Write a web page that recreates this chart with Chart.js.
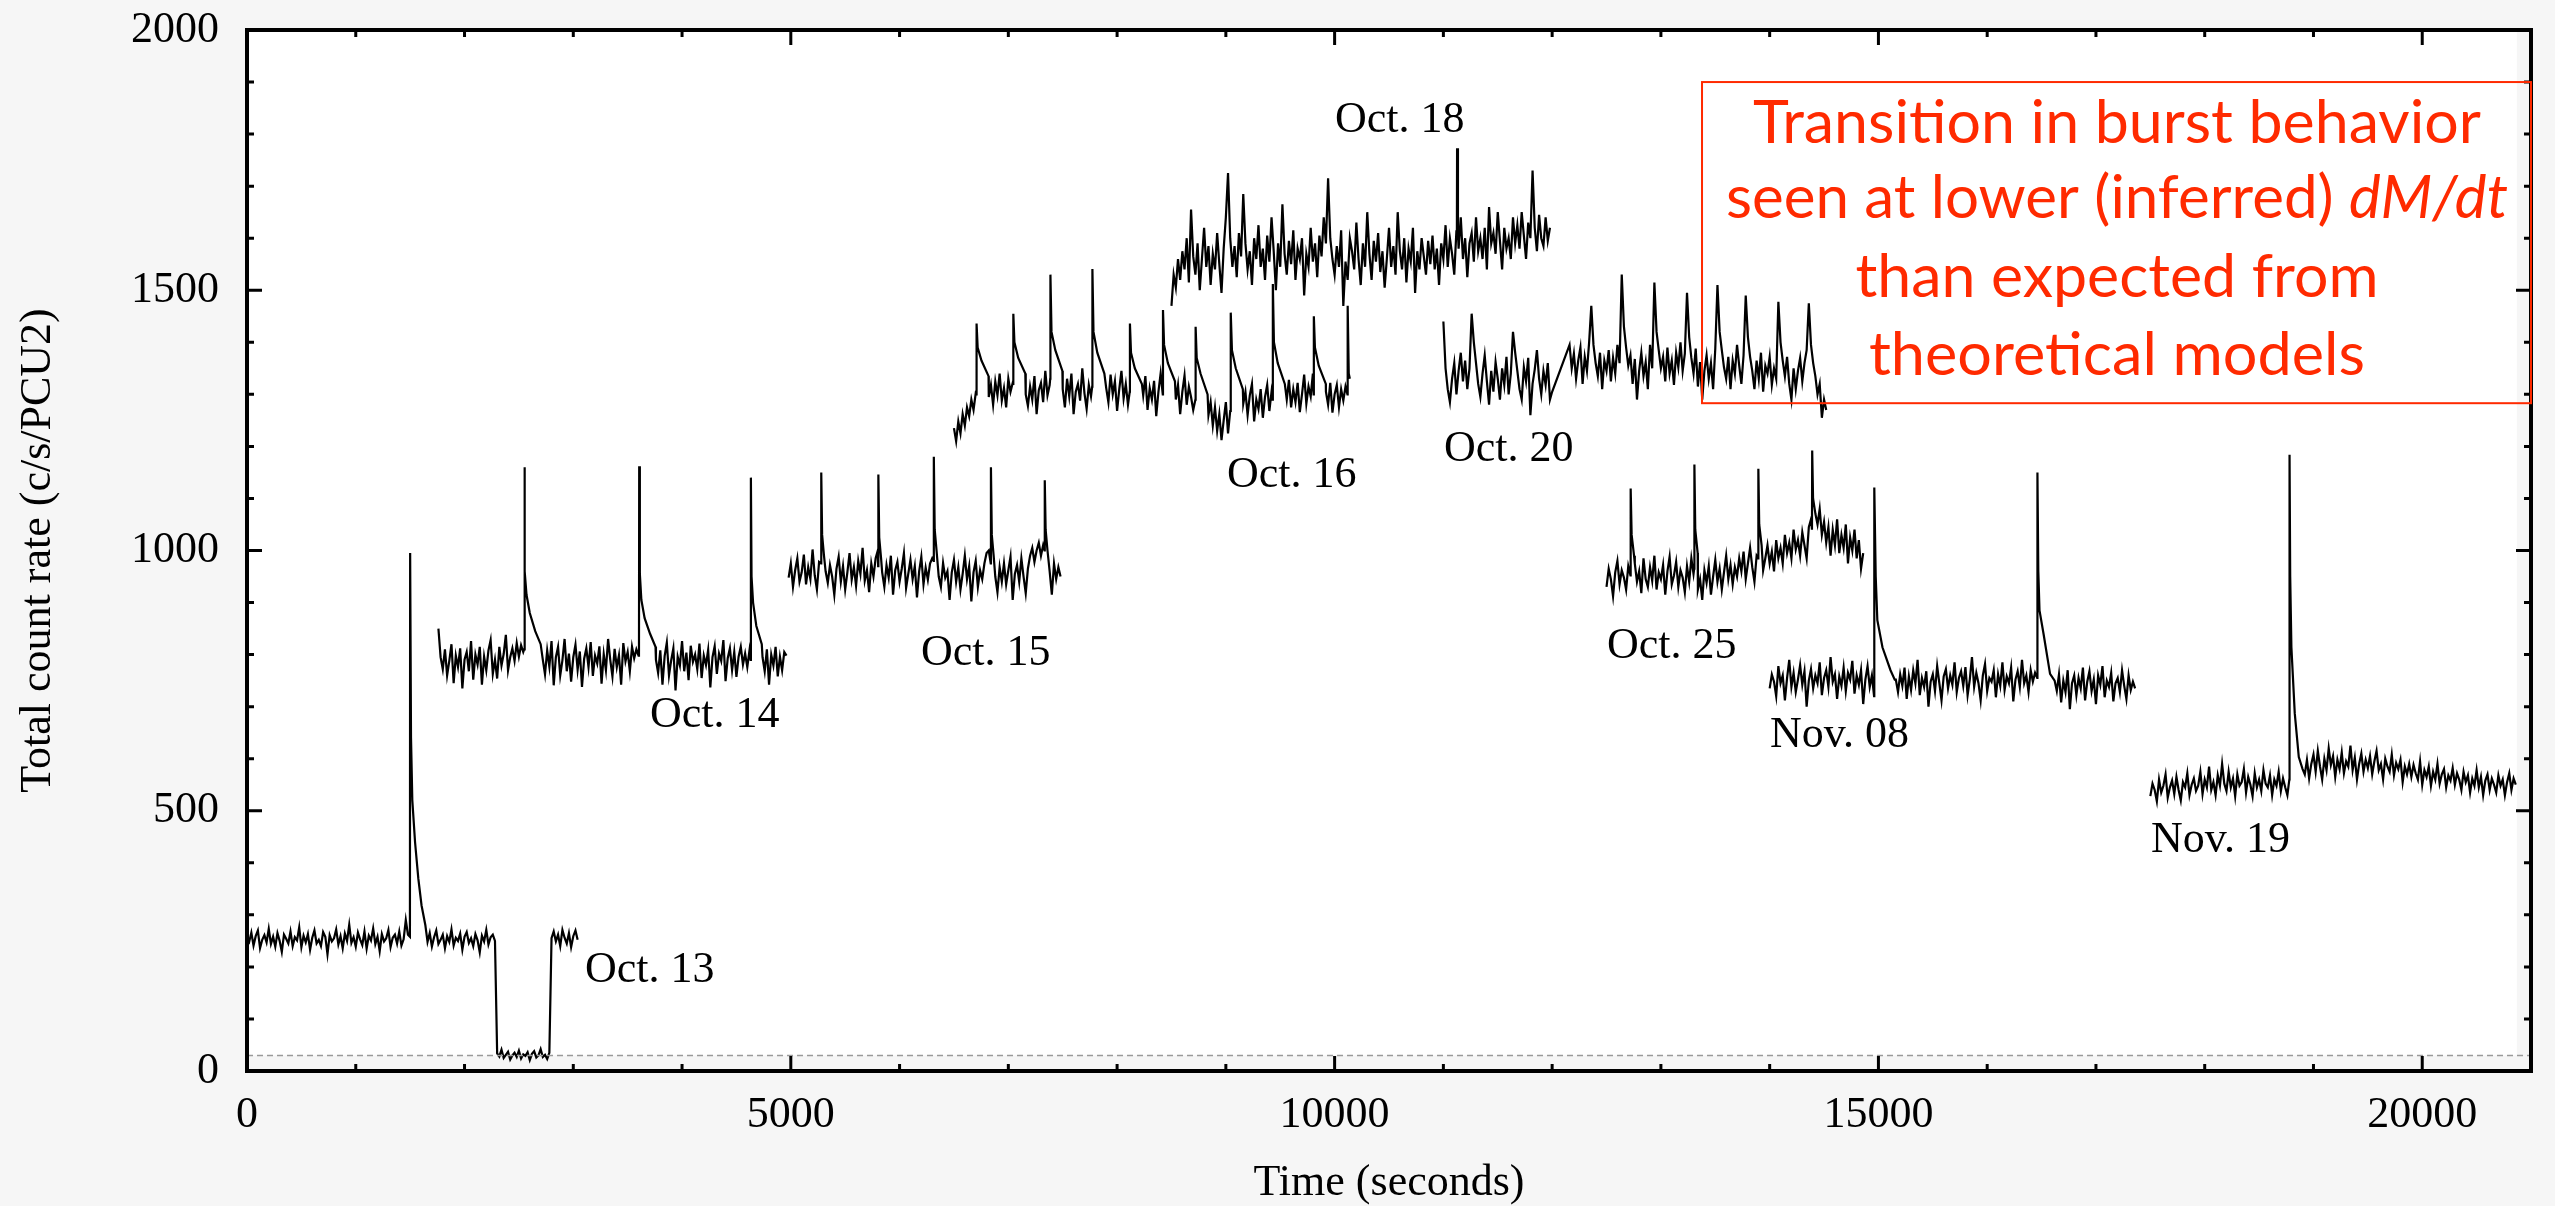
<!DOCTYPE html>
<html>
<head>
<meta charset="utf-8">
<script src="https://cdn.jsdelivr.net/npm/chart.js@4.4.1/dist/chart.umd.min.js"></script>
<style>
  html, body { margin: 0; padding: 0; background: #f6f6f6; }
  canvas { display: block; }
</style>
</head>
<body>
<canvas id="curve" width="2555" height="1206"></canvas>
<script>
// ---------- data (count rate in c/s/PCU2, 20 s bins) ---------- //
const binSeconds = 20;
const xTicks = [0, 5000, 10000, 15000, 20000];
const yTicks = [0, 500, 1000, 1500, 2000];
const backgroundLevel = 30;

// Oct. 13 (includes the short drop to background)
const oct13Start = 0;
const oct13Rate = [
  255,248,266,241,259,270,236,252,261,247,273,244,258,239,265,250,229,262,254,245,
  268,240,257,251,276,238,260,247,263,233,256,270,245,252,240,267,258,224,261,249,
  255,272,243,259,236,264,250,281,246,257,239,266,253,242,268,235,260,251,274,244,
  258,230,263,249,255,271,238,256,262,245,268,241,253,290,262,
  300,280,270,262,258,255,260,252,
  248,265,239,257,270,244,252,262,236,259,248,272,241,256,250,264,233,258,267,246,
  255,240,263,251,228,260,249,271,243,257,262,250,
  34,28,41,25,31,37,22,30,35,27,39,24,32,29,36,21,33,38,26,30,42,27,31,23,35,
  255,268,249,262,240,271,256,245,265,238,259,270,252
];
const oct13Bursts = [
  { t: [1498, 1500, 1508, 1520, 1545, 1575, 1605, 1640], v: [258, 995, 640, 520, 440, 370, 318, 280] }
];

// Oct. 14
const oct14Start = 1760;
const oct14Rate = [
  850,795,772,810,760,788,820,745,798,776,812,735,790,805,768,826,752,800,781,815,
  742,796,770,808,828,763,790,754,815,779,801,838,770,795,812,788,822,796,818,805,
  900,880,860,845,830,820,812,805,790,762,808,777,826,741,795,815,760,789,830,768,
  802,748,795,819,771,806,738,792,812,776,824,759,798,783,816,744,801,770,830,790,
  758,811,776,799,742,822,787,805,768,815,793,810,798,880,860,850,835,828,818,812,
  790,765,808,742,797,823,760,789,812,731,796,779,826,768,804,751,817,786,800,772,
  821,755,798,780,809,737,795,816,763,802,788,828,749,793,812,770,805,757,796,815,
  781,802,776,808,900,870,850,832,820,795,768,810,742,800,779,815,758,796,770,805,
  798
];
const oct14Bursts = [
  { t: [2548, 2550, 2556, 2570, 2600, 2650, 2700], v: [810, 1160, 960, 915, 880, 845, 820] },
  { t: [3604, 3606, 3612, 3626, 3656, 3706, 3756], v: [800, 1162, 955, 905, 870, 840, 815] },
  { t: [4631, 4633, 4639, 4653, 4683, 4733], v: [790, 1140, 950, 900, 855, 820] }
];

// Oct. 15
const oct15Start = 4980;
const oct15Rate = [
  948,975,930,962,985,940,958,992,935,968,945,1002,952,925,978,1010,990,960,938,972,
  950,915,965,988,940,970,925,958,995,944,968,932,980,955,1005,942,962,920,975,950,
  985,1000,1020,958,930,972,948,990,915,962,978,940,965,995,928,955,982,945,970,910,
  960,988,935,967,944,975,985,1010,990,950,930,976,948,960,905,958,982,940,968,925,
  955,990,945,970,902,958,980,930,962,945,975,995,1000,1020,1000,950,920,968,940,975,
  935,962,988,905,955,972,940,985,950,918,965,990,1005,978,1000,1015,990,1010,1030,1000,
  960,915,975,945,968,950
];
const oct15Bursts = [
  { t: [5278, 5280, 5288, 5305], v: [975, 1150, 1030, 990] },
  { t: [5803, 5805, 5813, 5830], v: [970, 1146, 1025, 985] },
  { t: [6313, 6315, 6323, 6340], v: [980, 1180, 1040, 1000] },
  { t: [6838, 6840, 6848, 6865], v: [975, 1160, 1030, 990] },
  { t: [7333, 7335, 7343, 7360], v: [1000, 1135, 1040, 1000] }
];

// Oct. 16
const oct16Start = 6500;
const oct16Rate = [
  1235,1210,1248,1225,1262,1240,1275,1258,1290,1270,1302,1360,1350,1340,1335,1330,1295,1318,1280,1325,
  1298,1340,1288,1312,1275,1330,1305,1322,1380,1365,1352,1345,1340,1300,1278,1315,1290,1335,1262,1308,
  1322,1285,1345,1298,1318,1400,1390,1380,1370,1350,1310,1275,1330,1296,1340,1262,1305,1320,1288,1350,
  1302,1272,1318,1296,1380,1372,1360,1350,1345,1340,1312,1285,1338,1300,1325,1268,1310,1345,1292,1320,
  1280,1370,1360,1350,1340,1330,1320,1298,1335,1270,1312,1290,1326,1258,1305,1340,1380,1370,1360,1345,
  1335,1325,1290,1318,1262,1305,1336,1280,1315,1295,1270,1350,1345,1335,1320,1310,1300,1260,1285,1240,
  1275,1230,1262,1212,1250,1285,1225,1268,1345,1370,1355,1340,1320,1282,1305,1260,1298,1320,1248,1290,
  1272,1310,1255,1295,1318,1268,1305,1380,1400,1375,1360,1340,1325,1290,1328,1275,1310,1285,1322,1266,
  1300,1338,1282,1315,1296,1340,1370,1360,1350,1340,1330,1305,1280,1322,1265,1300,1318,1275,1310,1288,
  1315,1350,1330
];
const oct16Bursts = [
  { t: [6706, 6708, 6718, 6753, 6818], v: [1300, 1436, 1390, 1365, 1335] },
  { t: [7044, 7046, 7056, 7091, 7156], v: [1320, 1455, 1400, 1370, 1340] },
  { t: [7385, 7387, 7397, 7432, 7497], v: [1330, 1530, 1420, 1385, 1345] },
  { t: [7771, 7773, 7783, 7818, 7883], v: [1315, 1541, 1420, 1380, 1340] },
  { t: [8116, 8118, 8128, 8163, 8228], v: [1305, 1436, 1380, 1350, 1320] },
  { t: [8420, 8422, 8432, 8467, 8532], v: [1300, 1462, 1395, 1360, 1325] },
  { t: [8720, 8722, 8732, 8767, 8832], v: [1290, 1430, 1370, 1340, 1300] },
  { t: [9044, 9046, 9056, 9091, 9156], v: [1270, 1457, 1385, 1350, 1310] },
  { t: [9430, 9432, 9442, 9477, 9542], v: [1290, 1512, 1400, 1360, 1320] },
  { t: [9807, 9809, 9819, 9854, 9919], v: [1300, 1450, 1390, 1355, 1320] },
  { t: [10118, 10120, 10130], v: [1300, 1470, 1340] }
];

// Oct. 18
const oct18Start = 8500;
const oct18Rate = [
  1470,1530,1505,1560,1520,1575,1540,1600,1515,1655,1565,1530,1590,1500,1560,1620,1545,1585,1510,1570,
  1540,1610,1550,1495,1580,1640,1725,1600,1545,1585,1525,1610,1565,1685,1590,1540,1575,1510,1600,1560,
  1625,1545,1580,1520,1605,1555,1640,1575,1500,1590,1545,1665,1570,1530,1595,1550,1615,1520,1580,1560,
  1600,1490,1570,1545,1620,1555,1590,1525,1605,1565,1640,1590,1715,1600,1560,1530,1585,1545,1615,1470,
  1555,1520,1600,1575,1540,1630,1560,1510,1590,1545,1650,1570,1520,1595,1555,1610,1535,1575,1505,1560,
  1620,1545,1585,1530,1650,1575,1540,1600,1515,1580,1555,1620,1495,1575,1540,1600,1565,1530,1595,1550,
  1605,1540,1580,1510,1590,1560,1625,1545,1600,1570,1530,1615,1580,1640,1560,1600,1525,1590,1610,1555,
  1640,1575,1600,1560,1620,1540,1660,1590,1610,1570,1650,1595,1540,1620,1580,1600,1560,1640,1590,1625,
  1580,1650,1605,1560,1630,1600,1730,1620,1575,1645,1600,1585,1640,1595,1620
];
const oct18Bursts = [
  { t: [11124, 11126, 11134], v: [1600, 1773, 1610] }
];

// Oct. 20 (two pieces joined across a data gap)
const oct20aStart = 11000;
const oct20aRate = [
  1440,1350,1310,1285,1330,1360,1300,1345,1380,1325,1365,1310,1350,1455,1400,1360,1320,1295,1340,1375,
  1325,1280,1345,1305,1362,1330,1290,1350,1318,1372,1300,1340,1420,1380,1345,1310,1290,1352,1325,1370,
  1260,1320,1348,1385,1330,1300,1345,1318,1360,1290,1305
];
const oct20bStart = 12160;
const oct20bRate = [
  1395,1350,1378,1330,1365,1390,1320,1372,1345,1400,1470,1395,1360,1335,1380,1310,1365,1345,1385,1325,
  1370,1340,1395,1360,1530,1430,1390,1355,1375,1320,1368,1290,1345,1380,1335,1362,1310,1395,1350,1515,
  1420,1385,1350,1372,1325,1390,1340,1365,1318,1380,1352,1400,1345,1378,1495,1410,1370,1340,1388,1315,
  1362,1290,1345,1375,1330,1360,1310,1388,1510,1420,1385,1352,1330,1372,1310,1365,1340,1395,1355,1320,
  1375,1490,1410,1372,1345,1310,1365,1330,1380,1305,1355,1340,1372,1318,1350,1330,1478,1400,1365,1335,
  1372,1320,1290,1350,1310,1345,1370,1325,1360,1385,1475,1395,1360,1335,1300,1320,1255,1290,1270
];

// Oct. 25
const oct25Start = 12500;
const oct25Rate = [
  930,965,945,912,958,980,935,962,948,925,970,952,1010,975,940,960,918,985,945,930,
  968,942,990,925,958,945,972,915,960,988,935,952,978,930,962,948,920,970,940,985,
  955,1000,925,945,905,962,938,970,915,950,982,940,965,925,958,990,945,972,935,968,
  950,985,960,998,945,975,1005,968,940,990,1000,1000,962,985,1010,975,998,960,1020,985,
  1005,975,1030,995,1015,985,1040,1002,1020,990,1035,1010,985,1045,1060,1075,1070,1050,1080,1030,
  1055,1015,1045,990,1040,1010,1060,995,1030,1005,1050,975,1025,1000,1040,985,1020,965,995
];
const oct25Bursts = [
  { t: [12721, 12723, 12731, 12753], v: [960, 1119, 1030, 990] },
  { t: [13306, 13308, 13316, 13338], v: [965, 1165, 1040, 995] },
  { t: [13894, 13896, 13904, 13926], v: [985, 1157, 1050, 1010] },
  { t: [14389, 14391, 14399, 14421], v: [1040, 1192, 1100, 1070] }
];

// Nov. 08
const nov08Start = 14000;
const nov08Rate = [
  735,762,748,720,778,745,760,712,755,790,738,765,728,752,780,742,768,700,750,772,
  735,760,745,785,722,755,770,738,795,748,762,715,758,740,775,730,765,752,788,725,
  760,742,770,705,752,778,738,760,720,840,820,800,790,780,770,765,760,755,752,728,
  762,740,775,715,758,732,770,745,790,722,755,738,768,700,748,762,730,778,745,712,
  758,772,735,760,742,785,728,755,768,740,776,722,752,795,738,765,745,712,760,782,
  730,755,748,770,718,762,740,785,732,758,745,775,710,752,768,738,790,745,760,728,
  770,748,765,755,880,850,820,800,775,765,758,752,730,762,708,750,728,770,695,745,
  760,722,755,735,775,712,748,768,730,752,705,760,742,778,718,750,738,765,710,745,
  755,728,770,740,715,760,732,748,735
];
const nov08Bursts = [
  { t: [14961, 14963, 14975, 14990, 15037, 15111, 15150], v: [745, 1121, 950, 866, 814, 770, 752] },
  { t: [16461, 16463, 16470, 16481, 16518, 16578, 16620], v: [770, 1150, 960, 885, 840, 763, 750] }
];

// Nov. 19
const nov19Start = 17500;
const nov19Rate = [
  528,552,540,518,560,535,548,570,525,545,558,532,565,540,520,555,545,572,530,550,
  562,538,548,575,532,560,545,585,540,555,530,568,548,590,552,538,575,545,562,528,
  570,548,555,580,535,565,550,528,572,545,560,538,578,552,545,568,530,560,548,575,
  538,562,545,530,600,800,700,640,610,595,580,570,598,562,590,608,575,615,585,560,
  600,578,620,588,605,565,598,580,612,572,595,585,625,578,602,560,590,610,575,598,
  582,605,570,595,615,578,590,560,600,585,575,608,568,592,580,598,555,585,570,590,
  565,588,572,560,595,550,578,565,585,548,575,560,590,552,570,580,545,568,558,582,
  550,572,560,540,575,555,568,535,562,548,578,545,565,530,558,570,540,562,550,535,
  568,548,560,530,555,572,540,562,550
];
const nov19Bursts = [
  { t: [18778, 18780, 18786, 18797, 18828, 18865, 18900], v: [560, 1184, 950, 814, 687, 603, 580] }
];

// observation labels, anchored at (time, rate) of the text's left baseline
const obsLabels = ["Oct. 13", "Oct. 14", "Oct. 15", "Oct. 16", "Oct. 18", "Oct. 20", "Oct. 25", "Nov. 08", "Nov. 19"];
const obsLabelTime = [3108, 3705, 6197, 9011, 10003, 11006, 12504, 14003, 17506];
const obsLabelRate = [171, 661, 780, 1122, 1804, 1172, 793, 622, 421];

// ---------- helpers ---------- //

// binned pieces + burst profiles -> sorted {x, y} points
function lightCurve(pieces, bursts) {
  let pts = [];
  pieces.forEach(([start, values]) => {
    values.forEach((v, i) => pts.push({ x: start + i * binSeconds, y: v }));
  });
  bursts.forEach(b => {
    const t0 = b.t[0], t1 = b.t[b.t.length - 1];
    pts = pts.filter(p => p.x < t0 || p.x > t1);
    b.t.forEach((t, i) => pts.push({ x: t, y: b.v[i] }));
  });
  pts.sort((a, b) => a.x - b.x);
  return pts;
}

function curveSet(label, pts) {
  return { label, data: pts, borderColor: "#000", borderWidth: 2.2, pointRadius: 0 };
}

const serif = "'Liberation Serif', 'Times New Roman', serif";
const noteRed = "#ff2a00";

// paper colour + white plot panel
const paperPlugin = {
  id: "paper",
  beforeDraw(chart) {
    const { ctx, chartArea: a, scales: { x, y } } = chart;
    ctx.save();
    ctx.fillStyle = "#f6f6f6";
    ctx.fillRect(0, 0, chart.width, chart.height);
    ctx.fillStyle = "#ffffff";
    const r = x.getPixelForValue(20870);
    const b = y.getPixelForValue(backgroundLevel);
    ctx.fillRect(a.left, a.top, r - a.left, b - a.top);
    ctx.restore();
  }
};

// inward ticks on all four sides + heavy frame
const framePlugin = {
  id: "frame",
  afterDatasetsDraw(chart) {
    const { ctx, chartArea: a, scales: { x, y } } = chart;
    ctx.save();
    ctx.strokeStyle = "#000";
    ctx.lineWidth = 3;
    ctx.beginPath();
    for (let t = 1000; t < 21000; t += 1000) {
      const px = x.getPixelForValue(t);
      const len = t % 5000 === 0 ? 15 : 7;
      ctx.moveTo(px, a.bottom); ctx.lineTo(px, a.bottom - len);
      ctx.moveTo(px, a.top); ctx.lineTo(px, a.top + len);
    }
    for (let v = 100; v < 2000; v += 100) {
      const py = y.getPixelForValue(v);
      const len = v % 500 === 0 ? 15 : 7;
      ctx.moveTo(a.left, py); ctx.lineTo(a.left + len, py);
      ctx.moveTo(a.right, py); ctx.lineTo(a.right - len, py);
    }
    ctx.stroke();
    ctx.lineWidth = 4;
    ctx.strokeRect(a.left, a.top, a.right - a.left, a.bottom - a.top);
    ctx.restore();
  }
};

// date labels + red note box
const notesPlugin = {
  id: "notes",
  afterDatasetsDraw(chart) {
    const { ctx, scales: { x, y } } = chart;
    ctx.save();
    ctx.fillStyle = "#000";
    ctx.font = "44px " + serif;
    ctx.textAlign = "left";
    ctx.textBaseline = "alphabetic";
    obsLabels.forEach((txt, i) => {
      ctx.fillText(txt, x.getPixelForValue(obsLabelTime[i]), y.getPixelForValue(obsLabelRate[i]));
    });

    // red box
    const bl = x.getPixelForValue(13378), br = x.getPixelForValue(21000);
    const bt = y.getPixelForValue(1900), bb = y.getPixelForValue(1283);
    ctx.strokeStyle = noteRed;
    ctx.lineWidth = 2;
    ctx.strokeRect(bl, bt, br - bl, bb - bt);

    const cx = x.getPixelForValue(17193);
    const lines = [
      { parts: [["Transition in burst behavior", false]], rate: 1783, w: 728 },
      { parts: [["seen at lower (inferred) ", false], ["dM/dt", true]], rate: 1639, w: 782 },
      { parts: [["than expected from", false]], rate: 1487, w: 523 },
      { parts: [["theoretical models", false]], rate: 1337, w: 496 }
    ];
    const normal = "60px Lato, 'Open Sans', sans-serif";
    const italic = "italic 60px Lato, 'Open Sans', sans-serif";
    ctx.fillStyle = noteRed;
    lines.forEach(line => {
      let total = 0;
      const widths = line.parts.map(([s, it]) => {
        ctx.font = it ? italic : normal;
        const w = ctx.measureText(s).width;
        total += w;
        return w;
      });
      const sx = line.w / total;
      ctx.save();
      ctx.translate(cx, y.getPixelForValue(line.rate));
      ctx.scale(sx, 1);
      let px = -total / 2;
      line.parts.forEach(([s, it], i) => {
        ctx.font = it ? italic : normal;
        ctx.fillText(s, px, 0);
        px += widths[i];
      });
      ctx.restore();
    });
    ctx.restore();
  }
};

// ---------- chart ---------- //
const datasets = [
  {
    label: "background",
    data: [{ x: 0, y: backgroundLevel }, { x: 21000, y: backgroundLevel }],
    borderColor: "#9a9a9a", borderWidth: 1.5, borderDash: [6, 4], pointRadius: 0
  },
  curveSet("Oct. 13", lightCurve([[oct13Start, oct13Rate]], oct13Bursts)),
  curveSet("Oct. 14", lightCurve([[oct14Start, oct14Rate]], oct14Bursts)),
  curveSet("Oct. 15", lightCurve([[oct15Start, oct15Rate]], oct15Bursts)),
  curveSet("Oct. 16", lightCurve([[oct16Start, oct16Rate]], oct16Bursts)),
  curveSet("Oct. 18", lightCurve([[oct18Start, oct18Rate]], oct18Bursts)),
  curveSet("Oct. 20", lightCurve([[oct20aStart, oct20aRate], [oct20bStart, oct20bRate]], [])),
  curveSet("Oct. 25", lightCurve([[oct25Start, oct25Rate]], oct25Bursts)),
  curveSet("Nov. 08", lightCurve([[nov08Start, nov08Rate]], nov08Bursts)),
  curveSet("Nov. 19", lightCurve([[nov19Start, nov19Rate]], nov19Bursts))
];

const ctx = document.getElementById("curve").getContext("2d");
new Chart(ctx, {
  type: "line",
  data: { datasets },
  options: {
    responsive: false,
    animation: false,
    layout: { padding: { top: 30, right: 24, left: 0, bottom: 0 } },
    plugins: { legend: { display: false }, tooltip: { enabled: false } },
    elements: { line: { tension: 0 }, point: { radius: 0 } },
    scales: {
      x: {
        type: "linear",
        min: 0,
        max: 21000,
        grid: { display: false, drawTicks: false },
        border: { display: false },
        afterBuildTicks: s => { s.ticks = xTicks.map(v => ({ value: v })); },
        afterFit: s => { s.height = 135; s.paddingLeft = 0; s.paddingRight = 0; },
        ticks: {
          color: "#000",
          font: { family: serif, size: 44 },
          padding: 18,
          maxRotation: 0,
          autoSkip: false,
          callback: v => String(v)
        },
        title: {
          display: true,
          text: "Time (seconds)",
          color: "#000",
          font: { family: serif, size: 44, lineHeight: 1 },
          padding: { top: 0, bottom: 1 }
        }
      },
      y: {
        type: "linear",
        min: 0,
        max: 2000,
        grid: { display: false, drawTicks: false },
        border: { display: false },
        afterBuildTicks: s => { s.ticks = yTicks.map(v => ({ value: v })); },
        afterFit: s => { s.width = 247; s.paddingTop = 0; s.paddingBottom = 0; },
        ticks: {
          color: "#000",
          font: { family: serif, size: 44 },
          padding: 28,
          autoSkip: false,
          callback: v => String(v)
        },
        title: {
          display: true,
          text: "Total count rate (c/s/PCU2)",
          color: "#000",
          font: { family: serif, size: 44 },
          padding: { top: 12, bottom: 0 }
        }
      }
    }
  },
  plugins: [paperPlugin, framePlugin, notesPlugin]
});
</script>
</body>
</html>
